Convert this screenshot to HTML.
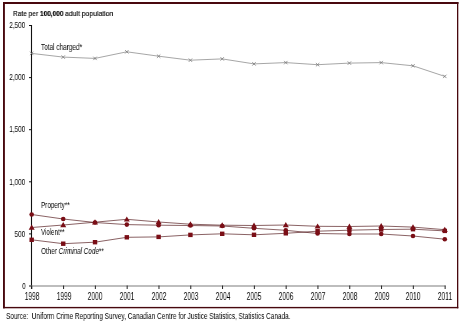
<!DOCTYPE html>
<html><head><meta charset="utf-8"><style>
html,body{margin:0;padding:0;background:#fff;}
body{width:460px;height:323px;position:relative;overflow:hidden;font-family:"Liberation Sans", sans-serif;color:#000;}
svg{position:absolute;left:0;top:0;}
.t{position:absolute;white-space:nowrap;transform-origin:0 0;line-height:1;will-change:transform;}
b{-webkit-text-stroke:0.2px #000;}
.yl{right:434.6px;font-size:8.5px;text-align:right;transform:scaleX(0.75);transform-origin:100% 0;}
.xl{top:292.2px;width:30px;text-align:center;font-size:10px;transform:scaleX(0.665);transform-origin:50% 0;}
</style></head><body>
<svg width="460" height="323" viewBox="0 0 460 323">
<rect x="3" y="2" width="455.5" height="2" fill="#48080e"/>
<rect x="3" y="2" width="1.9" height="306.3" fill="#48080e"/>
<rect x="457" y="2" width="1.3" height="306.3" fill="#48080e"/>
<rect x="3" y="306.9" width="455.3" height="1.4" fill="#48080e"/>
<line x1="31.5" y1="25" x2="31.5" y2="289" stroke="#111" stroke-width="1.1"/>
<line x1="31.5" y1="286" x2="445.5" y2="286" stroke="#bdbdbd" stroke-width="2"/>
<line x1="29" y1="286.0" x2="31.5" y2="286.0" stroke="#111" stroke-width="1"/>
<line x1="29" y1="233.9" x2="31.5" y2="233.9" stroke="#111" stroke-width="1"/>
<line x1="29" y1="181.8" x2="31.5" y2="181.8" stroke="#111" stroke-width="1"/>
<line x1="29" y1="129.7" x2="31.5" y2="129.7" stroke="#111" stroke-width="1"/>
<line x1="29" y1="77.6" x2="31.5" y2="77.6" stroke="#111" stroke-width="1"/>
<line x1="29" y1="25.5" x2="31.5" y2="25.5" stroke="#111" stroke-width="1"/>
<line x1="31.78" y1="285.5" x2="31.78" y2="289" stroke="#222" stroke-width="1"/>
<line x1="63.58" y1="285.5" x2="63.58" y2="289" stroke="#222" stroke-width="1"/>
<line x1="95.37" y1="285.5" x2="95.37" y2="289" stroke="#222" stroke-width="1"/>
<line x1="127.17" y1="285.5" x2="127.17" y2="289" stroke="#222" stroke-width="1"/>
<line x1="158.97" y1="285.5" x2="158.97" y2="289" stroke="#222" stroke-width="1"/>
<line x1="190.77" y1="285.5" x2="190.77" y2="289" stroke="#222" stroke-width="1"/>
<line x1="222.56" y1="285.5" x2="222.56" y2="289" stroke="#222" stroke-width="1"/>
<line x1="254.36" y1="285.5" x2="254.36" y2="289" stroke="#222" stroke-width="1"/>
<line x1="286.16" y1="285.5" x2="286.16" y2="289" stroke="#222" stroke-width="1"/>
<line x1="317.95" y1="285.5" x2="317.95" y2="289" stroke="#222" stroke-width="1"/>
<line x1="349.75" y1="285.5" x2="349.75" y2="289" stroke="#222" stroke-width="1"/>
<line x1="381.55" y1="285.5" x2="381.55" y2="289" stroke="#222" stroke-width="1"/>
<line x1="413.34" y1="285.5" x2="413.34" y2="289" stroke="#222" stroke-width="1"/>
<line x1="445.14" y1="285.5" x2="445.14" y2="289" stroke="#222" stroke-width="1"/>
<polyline points="31.68,53.40 63.23,57.10 95.02,58.40 126.82,51.80 158.62,56.20 190.42,60.20 222.21,58.90 254.01,63.90 285.81,62.60 317.60,64.70 349.40,63.10 381.20,62.60 412.99,65.80 444.79,76.40" fill="none" stroke="#8f8f8f" stroke-width="0.8"/>
<path d="M29.98,51.70L33.38,55.10M33.38,51.70L29.98,55.10" stroke="#7a7a7a" stroke-width="0.8"/>
<path d="M61.53,55.40L64.93,58.80M64.93,55.40L61.53,58.80" stroke="#7a7a7a" stroke-width="0.8"/>
<path d="M93.32,56.70L96.72,60.10M96.72,56.70L93.32,60.10" stroke="#7a7a7a" stroke-width="0.8"/>
<path d="M125.12,50.10L128.52,53.50M128.52,50.10L125.12,53.50" stroke="#7a7a7a" stroke-width="0.8"/>
<path d="M156.92,54.50L160.32,57.90M160.32,54.50L156.92,57.90" stroke="#7a7a7a" stroke-width="0.8"/>
<path d="M188.72,58.50L192.12,61.90M192.12,58.50L188.72,61.90" stroke="#7a7a7a" stroke-width="0.8"/>
<path d="M220.51,57.20L223.91,60.60M223.91,57.20L220.51,60.60" stroke="#7a7a7a" stroke-width="0.8"/>
<path d="M252.31,62.20L255.71,65.60M255.71,62.20L252.31,65.60" stroke="#7a7a7a" stroke-width="0.8"/>
<path d="M284.11,60.90L287.51,64.30M287.51,60.90L284.11,64.30" stroke="#7a7a7a" stroke-width="0.8"/>
<path d="M315.90,63.00L319.30,66.40M319.30,63.00L315.90,66.40" stroke="#7a7a7a" stroke-width="0.8"/>
<path d="M347.70,61.40L351.10,64.80M351.10,61.40L347.70,64.80" stroke="#7a7a7a" stroke-width="0.8"/>
<path d="M379.50,60.90L382.90,64.30M382.90,60.90L379.50,64.30" stroke="#7a7a7a" stroke-width="0.8"/>
<path d="M411.29,64.10L414.69,67.50M414.69,64.10L411.29,67.50" stroke="#7a7a7a" stroke-width="0.8"/>
<path d="M443.09,74.70L446.49,78.10M446.49,74.70L443.09,78.10" stroke="#7a7a7a" stroke-width="0.8"/>
<polyline points="31.68,214.50 63.23,219.00 95.02,222.50 126.82,224.60 158.62,225.20 190.42,225.50 222.21,226.00 254.01,228.30 285.81,230.30 317.60,233.50 349.40,234.00 381.20,234.00 412.99,236.00 444.79,239.20" fill="none" stroke="#4a0c10" stroke-width="0.65"/>
<polyline points="31.68,227.50 63.23,225.00 95.02,222.20 126.82,219.30 158.62,222.00 190.42,224.20 222.21,225.20 254.01,225.50 285.81,225.00 317.60,226.30 349.40,226.50 381.20,226.00 412.99,227.10 444.79,229.70" fill="none" stroke="#4a0c10" stroke-width="0.65"/>
<polyline points="31.68,239.80 63.23,243.70 95.02,242.20 126.82,237.30 158.62,236.90 190.42,234.90 222.21,233.80 254.01,234.80 285.81,233.30 317.60,231.20 349.40,230.20 381.20,229.50 412.99,229.20 444.79,230.90" fill="none" stroke="#4a0c10" stroke-width="0.65"/>
<circle cx="31.68" cy="214.50" r="2.3" fill="#7a0e16"/>
<circle cx="63.23" cy="219.00" r="2.3" fill="#7a0e16"/>
<circle cx="95.02" cy="222.50" r="2.3" fill="#7a0e16"/>
<circle cx="126.82" cy="224.60" r="2.3" fill="#7a0e16"/>
<circle cx="158.62" cy="225.20" r="2.3" fill="#7a0e16"/>
<circle cx="190.42" cy="225.50" r="2.3" fill="#7a0e16"/>
<circle cx="222.21" cy="226.00" r="2.3" fill="#7a0e16"/>
<circle cx="254.01" cy="228.30" r="2.3" fill="#7a0e16"/>
<circle cx="285.81" cy="230.30" r="2.3" fill="#7a0e16"/>
<circle cx="317.60" cy="233.50" r="2.3" fill="#7a0e16"/>
<circle cx="349.40" cy="234.00" r="2.3" fill="#7a0e16"/>
<circle cx="381.20" cy="234.00" r="2.3" fill="#7a0e16"/>
<circle cx="412.99" cy="236.00" r="2.3" fill="#7a0e16"/>
<circle cx="444.79" cy="239.20" r="2.3" fill="#7a0e16"/>
<rect x="29.48" y="237.60" width="4.4" height="4.4" fill="#7a0e16"/>
<rect x="61.03" y="241.50" width="4.4" height="4.4" fill="#7a0e16"/>
<rect x="92.82" y="240.00" width="4.4" height="4.4" fill="#7a0e16"/>
<rect x="124.62" y="235.10" width="4.4" height="4.4" fill="#7a0e16"/>
<rect x="156.42" y="234.70" width="4.4" height="4.4" fill="#7a0e16"/>
<rect x="188.22" y="232.70" width="4.4" height="4.4" fill="#7a0e16"/>
<rect x="220.01" y="231.60" width="4.4" height="4.4" fill="#7a0e16"/>
<rect x="251.81" y="232.60" width="4.4" height="4.4" fill="#7a0e16"/>
<rect x="283.61" y="231.10" width="4.4" height="4.4" fill="#7a0e16"/>
<rect x="315.40" y="229.00" width="4.4" height="4.4" fill="#7a0e16"/>
<rect x="347.20" y="228.00" width="4.4" height="4.4" fill="#7a0e16"/>
<rect x="379.00" y="227.30" width="4.4" height="4.4" fill="#7a0e16"/>
<rect x="410.79" y="227.00" width="4.4" height="4.4" fill="#7a0e16"/>
<rect x="442.59" y="228.70" width="4.4" height="4.4" fill="#7a0e16"/>
<path d="M31.68,224.60L34.68,229.70L28.68,229.70Z" fill="#7a0e16"/>
<path d="M63.23,222.10L66.23,227.20L60.23,227.20Z" fill="#7a0e16"/>
<path d="M95.02,219.30L98.02,224.40L92.02,224.40Z" fill="#7a0e16"/>
<path d="M126.82,216.40L129.82,221.50L123.82,221.50Z" fill="#7a0e16"/>
<path d="M158.62,219.10L161.62,224.20L155.62,224.20Z" fill="#7a0e16"/>
<path d="M190.42,221.30L193.42,226.40L187.42,226.40Z" fill="#7a0e16"/>
<path d="M222.21,222.30L225.21,227.40L219.21,227.40Z" fill="#7a0e16"/>
<path d="M254.01,222.60L257.01,227.70L251.01,227.70Z" fill="#7a0e16"/>
<path d="M285.81,222.10L288.81,227.20L282.81,227.20Z" fill="#7a0e16"/>
<path d="M317.60,223.40L320.60,228.50L314.60,228.50Z" fill="#7a0e16"/>
<path d="M349.40,223.60L352.40,228.70L346.40,228.70Z" fill="#7a0e16"/>
<path d="M381.20,223.10L384.20,228.20L378.20,228.20Z" fill="#7a0e16"/>
<path d="M412.99,224.20L415.99,229.30L409.99,229.30Z" fill="#7a0e16"/>
<path d="M444.79,226.80L447.79,231.90L441.79,231.90Z" fill="#7a0e16"/>
</svg>
<div class="t" style="left:13px;top:10.0px;font-size:8.0px;transform:scaleX(0.82);-webkit-text-stroke:0.15px #000;">Rate per</div><div class="t" style="left:39.7px;top:10.0px;font-size:8.0px;transform:scaleX(0.81);"><b>100,000</b></div><div class="t" style="left:65.4px;top:10.0px;font-size:8.0px;transform:scaleX(0.855);-webkit-text-stroke:0.15px #000;">adult population</div><div class="t yl" style="top:21.2px;">2,500</div><div class="t yl" style="top:73.3px;">2,000</div><div class="t yl" style="top:125.4px;">1,500</div><div class="t yl" style="top:177.5px;">1,000</div><div class="t yl" style="top:229.6px;">500</div><div class="t yl" style="top:281.7px;">0</div><div class="t xl" style="left:16.78px;">1998</div><div class="t xl" style="left:48.58px;">1999</div><div class="t xl" style="left:80.37px;">2000</div><div class="t xl" style="left:112.17px;">2001</div><div class="t xl" style="left:143.97px;">2002</div><div class="t xl" style="left:175.77px;">2003</div><div class="t xl" style="left:207.56px;">2004</div><div class="t xl" style="left:239.36px;">2005</div><div class="t xl" style="left:271.16px;">2006</div><div class="t xl" style="left:302.95px;">2007</div><div class="t xl" style="left:334.75px;">2008</div><div class="t xl" style="left:366.55px;">2009</div><div class="t xl" style="left:398.34px;">2010</div><div class="t xl" style="left:430.14px;">2011</div><div class="t" style="left:41px;top:42.8px;font-size:8.4px;transform:scaleX(0.768);">Total charged*</div><div class="t" style="left:40.5px;top:201.0px;font-size:8.4px;transform:scaleX(0.75);">Property**</div><div class="t" style="left:40.5px;top:227.7px;font-size:8.4px;transform:scaleX(0.732);">Violent**</div><div class="t" style="left:40.8px;top:246.9px;font-size:8.4px;transform:scaleX(0.759);">Other <i>Criminal Code</i>**</div><div class="t" style="left:6px;top:312.3px;font-size:8.4px;transform:scaleX(0.768);">Source:&nbsp; Uniform Crime Reporting Survey, Canadian Centre for Justice Statistics, Statistics Canada.</div>
</body></html>
